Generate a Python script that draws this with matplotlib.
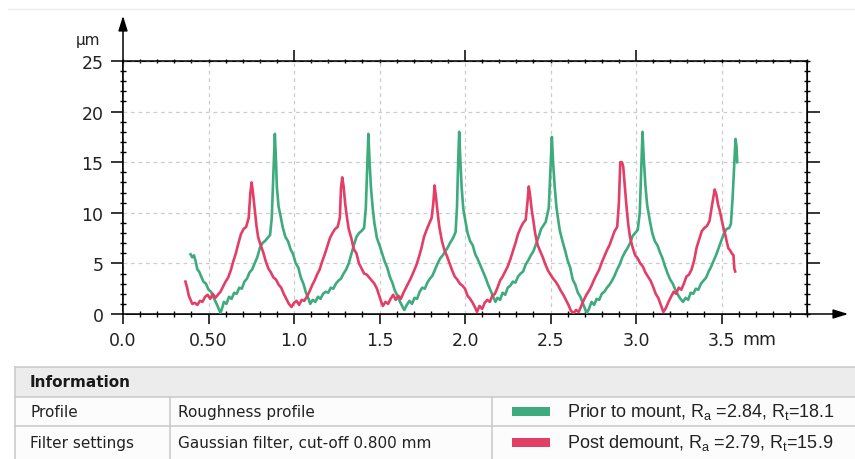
import numpy as np
import matplotlib.pyplot as plt
from matplotlib.patches import Rectangle

# --- profile data (mm, um) ---
prior_x = [0.395, 0.405, 0.415, 0.425, 0.435, 0.445, 0.46, 0.47, 0.485, 0.50, 0.515, 0.53, 0.545, 0.56, 0.57,
           0.58, 0.59, 0.605, 0.62, 0.635, 0.65, 0.665, 0.68, 0.695, 0.71, 0.725, 0.74, 0.755, 0.77, 0.785,
           0.80, 0.815, 0.83, 0.845, 0.86, 0.87, 0.88, 0.888, 0.895, 0.90, 0.91, 0.92, 0.935, 0.95, 0.965,
           0.98, 0.995, 1.01, 1.025, 1.04, 1.055, 1.07, 1.085, 1.095, 1.11, 1.125, 1.14, 1.155, 1.17, 1.185,
           1.20, 1.215, 1.23, 1.245, 1.26, 1.275, 1.29, 1.305, 1.32, 1.335, 1.35, 1.365, 1.38, 1.395, 1.41,
           1.42, 1.428, 1.435, 1.442, 1.45, 1.46, 1.47, 1.485, 1.50, 1.515, 1.53, 1.545, 1.56, 1.575, 1.59,
           1.605, 1.62, 1.635, 1.645, 1.66, 1.675, 1.69, 1.705, 1.72, 1.735, 1.75, 1.765, 1.78, 1.795, 1.81,
           1.825, 1.84, 1.855, 1.87, 1.885, 1.90, 1.915, 1.93, 1.945, 1.953, 1.96, 1.966, 1.972, 1.98, 1.99,
           2.0, 2.015, 2.03, 2.045, 2.06, 2.075, 2.09, 2.105, 2.12, 2.135, 2.15, 2.165, 2.178, 2.19, 2.205,
           2.22, 2.235, 2.25, 2.265, 2.28, 2.295, 2.31, 2.325, 2.34, 2.355, 2.37, 2.385, 2.40, 2.415, 2.43,
           2.445, 2.46, 2.472, 2.49, 2.50, 2.508, 2.515, 2.525, 2.535, 2.545, 2.555, 2.57, 2.585, 2.60, 2.615,
           2.63, 2.645, 2.66, 2.675, 2.69, 2.70, 2.712, 2.725, 2.74, 2.755, 2.77, 2.785, 2.80, 2.815, 2.83,
           2.845, 2.86, 2.875, 2.89, 2.905, 2.92, 2.935, 2.95, 2.965, 2.98, 2.995, 3.01, 3.022, 3.03, 3.038,
           3.045, 3.055, 3.065, 3.08, 3.095, 3.11, 3.125, 3.14, 3.155, 3.17, 3.185, 3.20, 3.215, 3.23, 3.245,
           3.26, 3.275, 3.29, 3.305, 3.32, 3.335, 3.35, 3.365, 3.38, 3.395, 3.41, 3.425, 3.44, 3.455, 3.47,
           3.485, 3.50, 3.515, 3.53, 3.545, 3.555, 3.565, 3.575, 3.582, 3.588, 3.592]
prior_y = [5.9, 5.6, 5.8, 5.2, 4.4, 4.2, 3.6, 3.2, 3.0, 2.4, 2.2, 1.6, 1.1, 0.5, 0.1,
           0.6, 1.2, 1.0, 1.7, 1.5, 2.1, 2.0, 2.6, 2.5, 3.2, 3.5, 4.1, 4.4, 5.0, 5.6,
           6.5, 7.0, 7.2, 7.5, 7.8, 9.5, 14.0, 17.8, 15.0, 12.5, 10.6, 9.8, 8.5, 7.6, 7.2,
           6.4, 5.9, 5.0, 4.6, 3.6, 3.0, 2.1, 1.5, 1.0, 1.4, 1.2, 1.7, 1.5, 2.0, 2.2,
           2.1, 2.6, 2.5, 3.0, 3.3, 3.5, 4.0, 4.4, 5.0, 5.9, 6.8, 7.6, 8.0, 8.2, 8.5,
           10.5, 14.5, 17.8, 15.0, 12.5, 10.5, 9.0, 7.5, 6.8, 6.0, 5.2, 4.6, 3.7, 3.1, 2.3,
           1.8, 1.2, 0.7, 0.4, 0.9, 1.3, 1.0, 1.6, 1.5, 2.2, 2.6, 2.5, 3.1, 3.5, 3.8,
           4.4, 5.0, 5.5, 5.8, 6.2, 6.6, 7.1, 7.5, 8.1, 10.5, 15.0, 18.0, 15.5, 12.6, 10.4,
           9.4, 8.0, 7.2, 6.8, 5.9, 5.4, 4.8, 4.2, 3.6, 2.9, 2.3, 1.7, 1.2, 1.6, 1.4,
           2.1, 1.9, 2.6, 2.8, 3.2, 3.1, 3.7, 4.0, 4.2, 4.9, 5.3, 5.8, 6.2, 6.9, 7.6,
           8.4, 8.8, 9.1, 10.5, 14.5, 17.5, 15.0, 12.5, 10.5, 9.3, 8.2, 7.2, 6.3, 5.3, 4.6,
           3.4, 2.9, 2.1, 1.7, 1.0, 0.6, 0.1, 0.5, 1.2, 0.9, 1.5, 1.4, 2.0, 2.2, 2.6,
           2.9, 3.3, 3.8, 4.4, 4.9, 5.6, 6.1, 6.5, 7.0, 7.7, 8.0, 8.3, 10.0, 14.0, 18.0,
           15.5, 12.7, 10.8, 9.3, 8.0, 7.2, 6.8, 6.1, 5.5, 4.7, 4.0, 3.4, 3.0, 2.4, 1.9,
           1.5, 1.2, 1.6, 1.4, 2.1, 2.0, 2.5, 2.4, 3.0, 3.3, 3.6, 4.2, 4.7, 5.3, 5.9,
           6.6, 7.3, 8.0, 8.4, 8.5, 8.9, 11.5, 15.0, 17.3, 16.5, 15.0]

post_x = [0.365, 0.375, 0.385, 0.395, 0.405, 0.42, 0.435, 0.45, 0.465, 0.48, 0.495, 0.51, 0.525, 0.54, 0.555,
          0.57, 0.585, 0.60, 0.615, 0.63, 0.645, 0.66, 0.675, 0.69, 0.705, 0.72, 0.735, 0.745, 0.752, 0.76,
          0.77, 0.78, 0.79, 0.805, 0.82, 0.835, 0.85, 0.865, 0.88, 0.895, 0.91, 0.925, 0.94, 0.955, 0.97,
          0.985, 1.00, 1.015, 1.03, 1.045, 1.06, 1.075, 1.09, 1.105, 1.12, 1.135, 1.15, 1.165, 1.18, 1.195,
          1.21, 1.225, 1.24, 1.255, 1.268, 1.275, 1.282, 1.29, 1.30, 1.31, 1.32, 1.335, 1.35, 1.365, 1.38,
          1.395, 1.41, 1.425, 1.44, 1.455, 1.47, 1.485, 1.50, 1.51, 1.52, 1.535, 1.55, 1.565, 1.58, 1.595,
          1.61, 1.625, 1.64, 1.655, 1.67, 1.685, 1.70, 1.715, 1.73, 1.745, 1.76, 1.775, 1.79, 1.805, 1.815,
          1.822, 1.83, 1.84, 1.85, 1.865, 1.88, 1.895, 1.91, 1.925, 1.94, 1.955, 1.97, 1.985, 2.00, 2.015,
          2.03, 2.045, 2.06, 2.07, 2.085, 2.10, 2.115, 2.13, 2.145, 2.16, 2.175, 2.19, 2.205, 2.22, 2.235,
          2.25, 2.265, 2.28, 2.295, 2.31, 2.325, 2.34, 2.355, 2.365, 2.373, 2.38, 2.39, 2.40, 2.41, 2.425,
          2.44, 2.455, 2.47, 2.485, 2.50, 2.515, 2.53, 2.545, 2.56, 2.575, 2.59, 2.605, 2.62, 2.635, 2.65,
          2.665, 2.68, 2.695, 2.71, 2.725, 2.74, 2.755, 2.77, 2.785, 2.80, 2.815, 2.83, 2.845, 2.86, 2.875,
          2.89, 2.90, 2.908, 2.918, 2.925, 2.935, 2.945, 2.955, 2.965, 2.98, 2.995, 3.01, 3.025, 3.04, 3.055,
          3.07, 3.085, 3.10, 3.115, 3.13, 3.145, 3.16, 3.175, 3.19, 3.205, 3.22, 3.235, 3.25, 3.265, 3.28,
          3.295, 3.31, 3.325, 3.34, 3.355, 3.37, 3.385, 3.40, 3.415, 3.43, 3.445, 3.46, 3.47, 3.48, 3.49,
          3.50, 3.51, 3.52, 3.53, 3.54, 3.55, 3.56, 3.57, 3.575, 3.58]
post_y = [3.2, 2.6, 1.8, 1.4, 1.0, 1.1, 0.9, 1.3, 1.2, 1.7, 1.9, 1.5, 2.0, 1.6, 1.9,
          2.2, 2.7, 3.2, 3.6, 4.3, 5.2, 6.0, 7.0, 7.9, 8.4, 8.6, 9.5, 12.0, 13.0, 12.0,
          10.4, 8.8, 7.6, 6.8, 6.1, 5.2, 4.5, 4.1, 3.6, 3.4, 2.9, 2.6, 2.0, 1.5, 1.0,
          0.7, 1.1, 1.3, 0.9, 1.4, 1.3, 1.7, 2.2, 2.8, 3.3, 3.9, 4.4, 5.2, 5.9, 6.7,
          7.5, 8.0, 8.4, 8.6, 9.5, 12.5, 13.5, 12.6, 10.8, 9.5, 8.4, 7.5, 6.4, 6.0, 5.0,
          4.5, 4.0, 3.9, 3.6, 3.3, 3.0, 2.5, 1.7, 1.2, 0.8, 1.2, 1.0, 1.5, 1.9, 1.4,
          1.8, 1.5, 2.1, 2.6, 3.1, 3.6, 4.2, 4.8, 5.6, 6.5, 7.6, 8.3, 8.9, 9.5, 11.0,
          12.7, 11.6, 10.0, 8.6, 7.2, 6.3, 5.7, 5.0, 4.3, 3.7, 3.4, 3.0, 2.8, 2.5, 1.8,
          1.5, 1.1, 0.6, 0.2, 0.8, 0.5, 1.1, 1.4, 1.2, 1.8, 2.0, 2.6, 3.3, 3.7, 4.2,
          4.7, 5.4, 6.2, 7.0, 7.9, 8.5, 9.0, 9.3, 11.0, 12.6, 11.8, 10.3, 9.2, 8.0, 6.8,
          6.2, 5.6, 4.9, 4.3, 3.9, 3.5, 3.2, 2.8, 2.3, 1.9, 1.4, 0.9, 0.3, 0.1, 0.4,
          0.2, 0.8, 1.4, 1.9, 2.3, 2.8, 3.4, 3.9, 4.4, 5.1, 5.7, 6.3, 6.8, 7.5, 8.2,
          8.6, 11.0, 15.0, 15.0, 14.6, 12.5, 10.5, 8.8, 7.6, 6.6, 5.8, 5.5, 5.0, 4.7, 4.1,
          3.7, 3.3, 2.7, 2.0, 1.6, 0.9, 0.2, 0.6, 1.2, 1.7, 2.2, 2.0, 2.6, 2.4, 3.0,
          3.7, 3.9, 4.4, 5.3, 6.6, 7.4, 8.2, 8.5, 8.7, 9.2, 10.8, 12.3, 11.8, 10.8, 10.2,
          9.4, 8.6, 8.0, 7.2, 6.5, 6.3, 6.0, 5.8, 4.5, 4.2]

x_ticks = [0.0, 0.5, 1.0, 1.5, 2.0, 2.5, 3.0, 3.5]
x_ticklabels = ['0.0', '0.50', '1.0', '1.5', '2.0', '2.5', '3.0', '3.5']
y_ticks = [0, 5, 10, 15, 20, 25]

info_rows = [('Profile', 'Roughness profile'),
             ('Filter settings', 'Gaussian filter, cut-off 0.800 mm')]
legend_labels = [r'Prior to mount, R$_\mathregular{a}$ =2.84, R$_\mathregular{t}$=18.1',
                 r'Post demount, R$_\mathregular{a}$ =2.79, R$_\mathregular{t}$=15.9']

GREEN = '#3dab7e'
RED = '#e23e66'
GRID = '#cccccc'

W, H = 855, 460
fig = plt.figure(figsize=(W / 100, H / 100), dpi=100)

# main plot, placed in pixel units
left, right, top, bottom = 123, 807, 62, 315
ax = fig.add_axes([left / W, 1 - bottom / H, (right - left) / W, (bottom - top) / H])
ax.plot(prior_x, prior_y, color=GREEN, lw=1.9, zorder=3)
ax.plot(post_x, post_y, color=RED, lw=1.9, zorder=4)

ax.set_xlim(0, 4.0)
ax.set_ylim(0, 25)
ax.set_xticks(x_ticks)
ax.set_xticklabels(x_ticklabels)
ax.set_yticks(y_ticks)
ax.set_xticks(np.arange(0, 4.01, 0.1), minor=True)
ax.set_yticks(np.arange(0, 25.1, 1), minor=True)
ax.grid(True, which='major', color=GRID, ls=(0, (3, 3)), lw=0.9)
for s in ax.spines.values():
    s.set_linewidth(1.1)
ax.tick_params(which='major', direction='out', length=7, width=1.1, labelsize=12.5, pad=5,
               labelcolor='#222222')
ax.tick_params(axis='y', which='major', length=9, pad=5)
ax.tick_params(which='minor', direction='inout', length=4, width=1.0)

# top / right axes carry their own tick sets
sec_x = ax.secondary_xaxis('top')
sec_x.set_xticks([1.0, 2.0, 3.0])
sec_x.set_xticklabels([])
sec_x.set_xticks(np.arange(0, 4.01, 0.1), minor=True)
sec_x.tick_params(which='major', direction='out', length=8, width=1.1)
sec_x.tick_params(which='minor', direction='inout', length=3, width=1.0)
sec_y = ax.secondary_yaxis('right')
sec_y.set_yticks([5, 10, 15, 20])
sec_y.set_yticklabels([])
sec_y.set_yticks(np.arange(0, 25.1, 1), minor=True)
sec_y.tick_params(which='major', direction='out', length=9, width=1.1)
sec_y.tick_params(which='minor', direction='inout', length=4, width=1.0)

# overlay in pixel coordinates for arrows, units and the info table
ov = fig.add_axes([0, 0, 1, 1], zorder=-1)
ov.set_xlim(0, W)
ov.set_ylim(H, 0)
ov.axis('off')

ov.plot([8, W], [10, 10], color='#ececec', lw=1)
ov.annotate('', xy=(left, 14), xytext=(left, bottom),
            arrowprops=dict(arrowstyle='-|>,head_length=0.9,head_width=0.28', color='black', lw=1.1))
ov.annotate('', xy=(851, bottom), xytext=(left, bottom),
            arrowprops=dict(arrowstyle='-|>,head_length=0.9,head_width=0.28', color='black', lw=1.1))
ov.text(88, 40, 'µm', fontsize=11, ha='center', va='center', color='#222222')
ov.text(742, 340, 'mm', fontsize=12.5, ha='left', va='center', color='#222222')

# info table
t_left, t_top, h_bot, r1_bot, t_bot = 15, 368, 398, 427, 460
col1, col2 = 170, 492
ov.add_patch(Rectangle((t_left, t_top), W - t_left, h_bot - t_top, facecolor='#ececec',
                       edgecolor='none'))
ov.add_patch(Rectangle((t_left, h_bot), W - t_left, t_bot - h_bot, facecolor='#fcfcfc',
                       edgecolor='none'))
line_c = '#cccccc'
ov.plot([t_left, W], [t_top, t_top], color=line_c, lw=1.2)
ov.plot([t_left, W], [h_bot, h_bot], color=line_c, lw=1.2)
ov.plot([t_left, W], [r1_bot, r1_bot], color=line_c, lw=1.2)
ov.plot([t_left, t_left], [t_top, t_bot], color=line_c, lw=1.2)
ov.plot([col1, col1], [h_bot, t_bot], color=line_c, lw=1.2)
ov.plot([col2, col2], [h_bot, t_bot], color=line_c, lw=1.2)

ov.text(30, 383, 'Information', fontsize=11, fontweight='bold', ha='left', va='center',
        color='#1a1a1a')
row_mid = [412.5, 443.5]
for (name, value), y in zip(info_rows, row_mid):
    ov.text(30, y, name, fontsize=11, ha='left', va='center', color='#222222')
    ov.text(178, y, value, fontsize=11, ha='left', va='center', color='#222222')
for label, color, y in zip(legend_labels, [GREEN, RED], row_mid):
    ov.add_patch(Rectangle((512, y - 4.5), 38, 9, facecolor=color, edgecolor='none'))
    ov.text(567, y, label, fontsize=13, family='Liberation Sans', ha='left', va='center',
            color='#222222')

fig.savefig('out.png', dpi=100)
